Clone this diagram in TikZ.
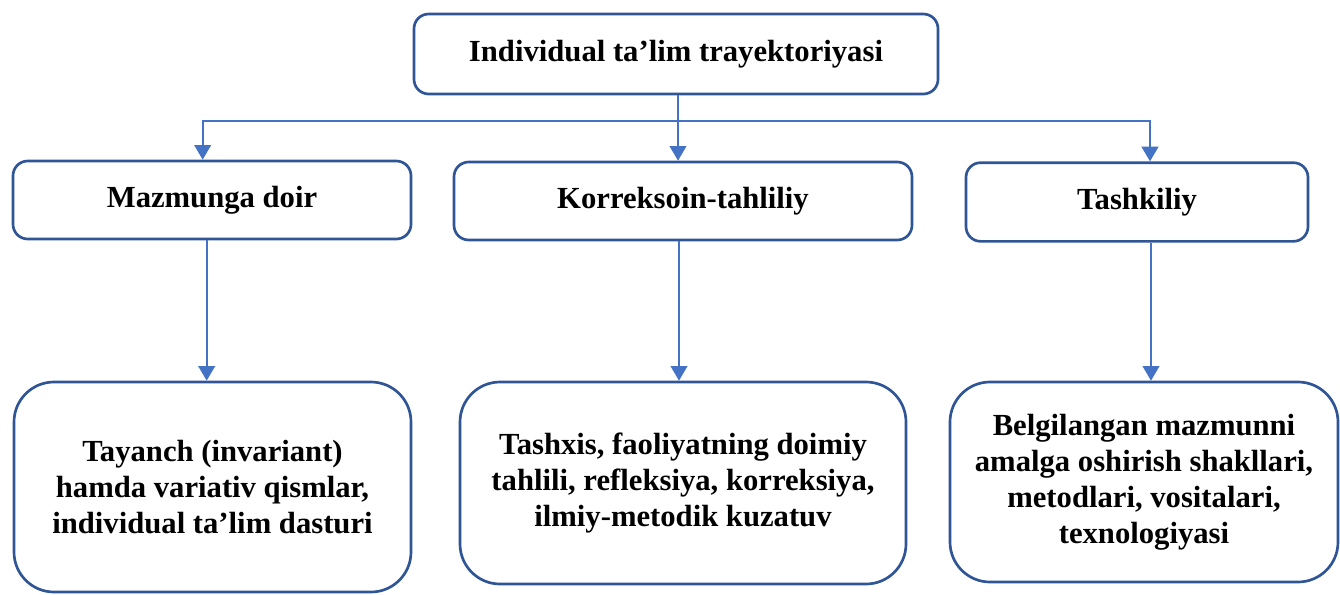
\documentclass[tikz,border=0pt]{standalone}
\usepackage{fontspec}
\setmainfont{Liberation Serif}
\usetikzlibrary{arrows.meta}
\definecolor{boxblue}{HTML}{2F5597}
\definecolor{linkblue}{HTML}{4472C4}
\begin{document}
\begin{tikzpicture}[x=0.75pt,y=-0.75pt,
  boxbase/.style={draw=boxblue,line width=2pt,fill=white,align=center,inner sep=0pt,
    font=\fontsize{23}{27}\selectfont\bfseries},
  headbox/.style={boxbase,rounded corners=11pt},
  bigbox/.style={boxbase,rounded corners=30pt},
  conn/.style={draw=linkblue,line width=1.6pt},
  arr/.style={conn,-{Triangle[length=11pt,width=12.5pt]}}]
\useasboundingbox (0,0) rectangle (1340,594);
\node[headbox,minimum width=393pt,minimum height=60pt] (top) at (676,54) {Individual ta’lim trayektoriyasi};
\node[headbox,minimum width=298.5pt,minimum height=58.5pt] (maz) at (212,200) {Mazmunga doir};
\node[headbox,minimum width=343.5pt,minimum height=58.5pt] (kor) at (683,201) {Korreksoin-tahliliy};
\node[headbox,minimum width=256.5pt,minimum height=59pt] (tash) at (1137,202) {Tashkiliy};
\node[bigbox,minimum width=297.75pt,minimum height=157.5pt] (lb) at (212.5,487) {Tayanch (invariant)\\hamda variativ qismlar,\\individual ta’lim dasturi};
\node[bigbox,minimum width=334.5pt,minimum height=151.5pt] (mb) at (683,483) {Tashxis, faoliyatning doimiy\\tahlili, refleksiya, korreksiya,\\ilmiy-metodik kuzatuv};
\node[bigbox,minimum width=291pt,minimum height=150pt] (rb) at (1144,482) {Belgilangan mazmunni\\amalga oshirish shakllari,\\metodlari, vositalari,\\texnologiyasi};
\coordinate (hub) at (678,121);
\draw[arr] ([xshift=1.5pt]top.south) -- ([xshift=1.5pt]top.south |- kor.north);
\draw[arr] (hub) -| ([xshift=-7pt]maz.north);
\draw[arr] (hub) -| ([xshift=9.75pt]tash.north);
\draw[arr] ([xshift=-4pt]maz.south) -- ([xshift=-4pt]maz.south |- lb.north);
\draw[arr] ([xshift=-3pt]kor.south) -- ([xshift=-3pt]kor.south |- mb.north);
\draw[arr] ([xshift=10.5pt]tash.south) -- ([xshift=10.5pt]tash.south |- rb.north);
\end{tikzpicture}
\end{document}
